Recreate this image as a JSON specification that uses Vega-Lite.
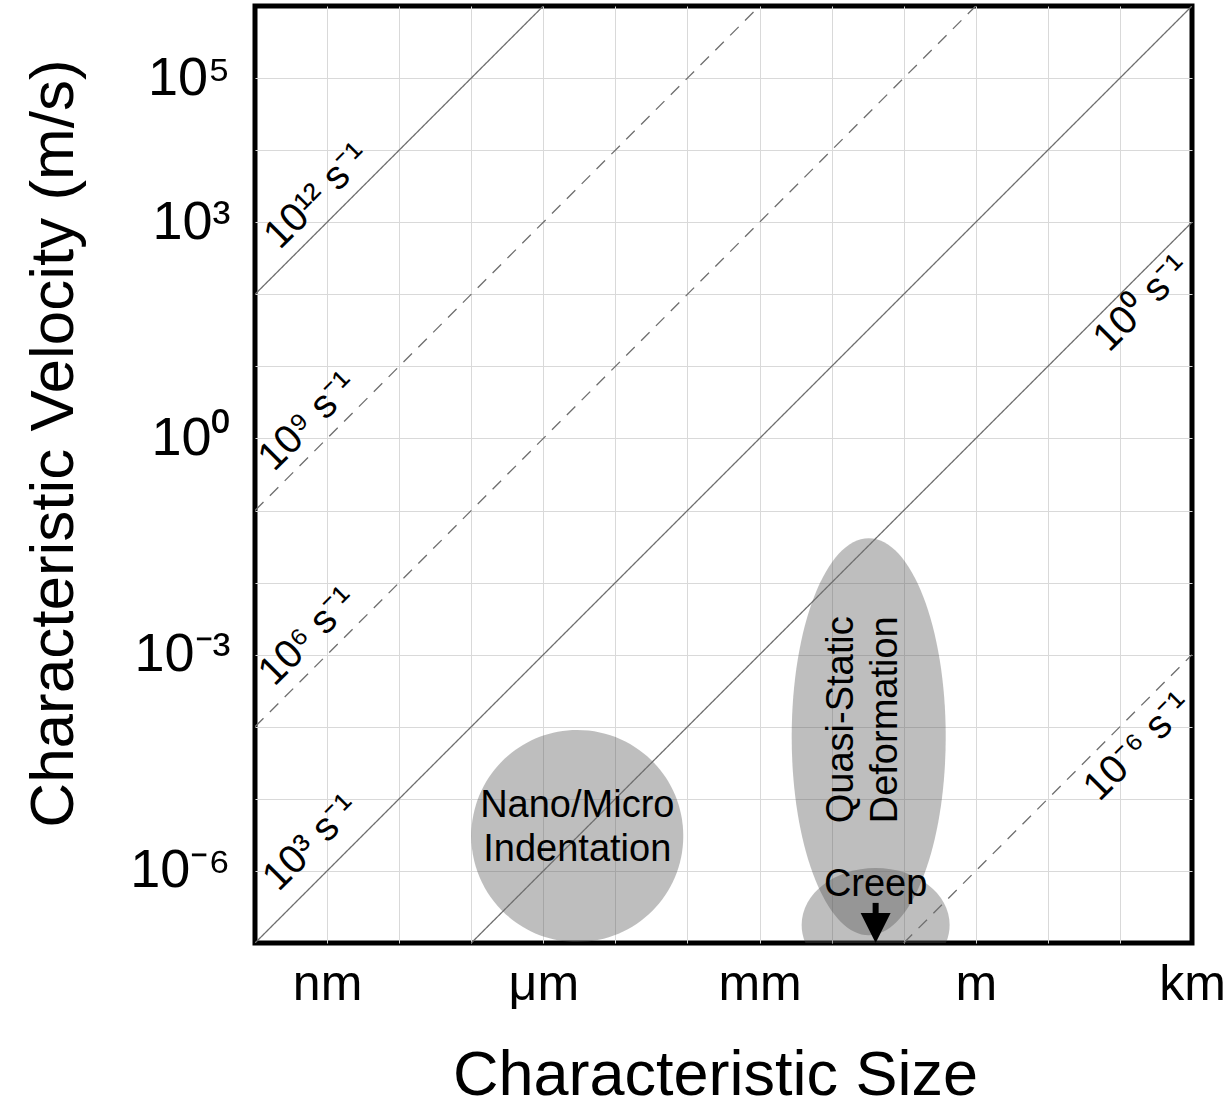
{
  "$schema": "https://vega.github.io/schema/vega-lite/v6.json",
  "width": 937,
  "height": 937,
  "autosize": "none",
  "padding": {"left": 255, "top": 6, "right": 33, "bottom": 164},
  "background": "white",
  "config": {
    "font": "Liberation Sans",
    "view": {"stroke": "black", "strokeWidth": 5},
    "axis": {
      "grid": true,
      "gridColor": "#d9d9d9",
      "gridWidth": 1,
      "ticks": false,
      "domain": false,
      "labelColor": "black",
      "titleColor": "black",
      "labelFont": "Liberation Sans",
      "titleFont": "Liberation Sans",
      "titleFontWeight": "normal",
      "labelFlush": false,
      "labelOverlap": false,
      "labelBound": false
    }
  },
  "datasets": {
    "lines": [
      {"rate": "1e12", "style": "solid", "L": 1e-10, "v": 100},
      {"rate": "1e12", "style": "solid", "L": 1e-6, "v": 1e6},
      {"rate": "1e9", "style": "dashed", "L": 1e-10, "v": 0.1},
      {"rate": "1e9", "style": "dashed", "L": 1e-3, "v": 1e6},
      {"rate": "1e6", "style": "dashed", "L": 1e-10, "v": 1e-4},
      {"rate": "1e6", "style": "dashed", "L": 1, "v": 1e6},
      {"rate": "1e3", "style": "solid", "L": 1e-10, "v": 1e-7},
      {"rate": "1e3", "style": "solid", "L": 1e3, "v": 1e6},
      {"rate": "1e0", "style": "solid", "L": 1e-7, "v": 1e-7},
      {"rate": "1e0", "style": "solid", "L": 1e3, "v": 1e3},
      {"rate": "1e-6", "style": "dashed", "L": 0.1, "v": 1e-7},
      {"rate": "1e-6", "style": "dashed", "L": 1e3, "v": 1e-3}
    ],
    "rateLabels": [
      {"label": "10¹² s⁻¹", "L": 7.26e-10, "v": 2296},
      {"label": "10⁹ s⁻¹", "L": 5.45e-10, "v": 1.72},
      {"label": "10⁶ s⁻¹", "L": 5.45e-10, "v": 0.00178},
      {"label": "10³ s⁻¹", "L": 6.0e-10, "v": 2.45e-6},
      {"label": "10⁰ s⁻¹", "L": 202, "v": 75},
      {"label": "10⁻⁶ s⁻¹", "L": 178, "v": 5.27e-5}
    ],
    "regions": [
      {"name": "indent", "L": 2.96e-6, "v": 3.06e-6},
      {"name": "quasi", "L": 0.0327, "v": 7.26e-5},
      {"name": "creep", "L": 0.0408, "v": 1.78e-7}
    ],
    "regionText": [
      {"name": "indent", "text": "Nano/Micro\nIndentation", "L": 2.96e-6, "v": 7.9e-6},
      {"name": "quasi", "text": "Quasi-Static\nDeformation", "L": 0.0138, "v": 1.25e-4},
      {"name": "creep", "text": "Creep", "L": 0.0408, "v": 6.4e-7}
    ],
    "arrow": [
      {"L": 0.0408, "v": 3.6e-7, "v2": 1.9e-7, "head": 1.61e-7}
    ]
  },
  "encoding": {
    "x": {
      "field": "L",
      "type": "quantitative",
      "scale": {"type": "log", "domain": [1e-10, 1e3], "nice": false},
      "axis": {
        "title": "Characteristic Size",
        "values": [1e-10, 1e-9, 1e-8, 1e-7, 1e-6, 1e-5, 1e-4, 1e-3, 1e-2, 1e-1, 1, 10, 100, 1000],
        "labelExpr": "['','nm','','','μm','','','mm','','','m','','','km'][round(log(datum.value)/LN10)+10]",
        "gridOpacity": {"condition": {"test": "datum.value < 2e-10 || datum.value > 500", "value": 0}, "value": 1},
        "labelFontSize": 50,
        "labelPadding": 16,
        "titleFontSize": 63,
        "titleX": 460,
        "titleY": 151,
        "titleBaseline": "alphabetic"
      }
    },
    "y": {
      "field": "v",
      "type": "quantitative",
      "scale": {"type": "log", "domain": [1e-7, 1e6], "nice": false},
      "axis": {
        "title": "Characteristic Velocity (m/s)",
        "values": [1e-7, 1e-6, 1e-5, 1e-4, 1e-3, 1e-2, 1e-1, 1, 10, 100, 1000, 1e4, 1e5, 1e6],
        "labelExpr": "['','10⁻⁶','','','10⁻³','','','10⁰','','','10³','','10⁵',''][round(log(datum.value)/LN10)+7]",
        "gridOpacity": {"condition": {"test": "datum.value < 2e-7 || datum.value > 5e5", "value": 0}, "value": 1},
        "labelFontSize": 54,
        "labelPadding": 25,
        "titleFontSize": 62,
        "titleX": -183,
        "titleY": 437,
        "titleBaseline": "alphabetic"
      }
    }
  },
  "layer": [
    {
      "data": {"name": "regions"},
      "transform": [{"filter": "datum.name === 'indent'"}],
      "mark": {"type": "point", "filled": true, "color": "#555555", "opacity": 0.38, "strokeWidth": 0, "clip": true,
               "shape": "M0,-1A1,1 0 1,1 0,1A1,1 0 1,1 0,-1Z", "size": 44944}
    },
    {
      "data": {"name": "regions"},
      "transform": [{"filter": "datum.name === 'quasi'"}],
      "mark": {"type": "point", "filled": true, "color": "#555555", "opacity": 0.38, "strokeWidth": 0, "clip": true,
               "shape": "M0,-1A0.388,1 0 1,1 0,1A0.388,1 0 1,1 0,-1Z", "size": 157609}
    },
    {
      "data": {"name": "regions"},
      "transform": [{"filter": "datum.name === 'creep'"}],
      "mark": {"type": "point", "filled": true, "color": "#555555", "opacity": 0.38, "strokeWidth": 0, "clip": true,
               "shape": "M-1,0A1,0.77 0 1,1 1,0A1,0.77 0 1,1 -1,0Z", "size": 21904}
    },
    {
      "data": {"name": "lines"},
      "mark": {"type": "line", "color": "#6e6e6e", "strokeWidth": 1.3, "clip": true},
      "encoding": {
        "detail": {"field": "rate", "type": "nominal"},
        "strokeDash": {"field": "style", "type": "nominal", "scale": {"domain": ["solid", "dashed"], "range": [[1, 0], [12, 9]]}, "legend": null}
      }
    },
    {
      "data": {"name": "rateLabels"},
      "mark": {"type": "text", "angle": 315, "align": "center", "baseline": "middle", "fontSize": 40, "color": "black", "font": "Liberation Sans"},
      "encoding": {"text": {"field": "label", "type": "nominal"}}
    },
    {
      "data": {"name": "regionText"},
      "transform": [{"filter": "datum.name !== 'quasi'"}],
      "mark": {"type": "text", "align": "center", "baseline": "middle", "fontSize": 38, "lineHeight": 44, "lineBreak": "\n", "color": "black", "font": "Liberation Sans"},
      "encoding": {"text": {"field": "text", "type": "nominal"}}
    },
    {
      "data": {"name": "regionText"},
      "transform": [{"filter": "datum.name === 'quasi'"}],
      "mark": {"type": "text", "angle": 270, "align": "center", "baseline": "middle", "fontSize": 38, "lineHeight": 44, "lineBreak": "\n", "color": "black", "font": "Liberation Sans"},
      "encoding": {"text": {"field": "text", "type": "nominal"}}
    },
    {
      "data": {"name": "arrow"},
      "mark": {"type": "rule", "color": "black", "strokeWidth": 6},
      "encoding": {"y2": {"field": "v2"}}
    },
    {
      "data": {"name": "arrow"},
      "mark": {"type": "point", "filled": true, "color": "black", "opacity": 1, "strokeWidth": 0,
               "shape": "M-1,-1L1,-1L0,1Z", "size": 900},
      "encoding": {"y": {"field": "head", "type": "quantitative"}}
    }
  ]
}
